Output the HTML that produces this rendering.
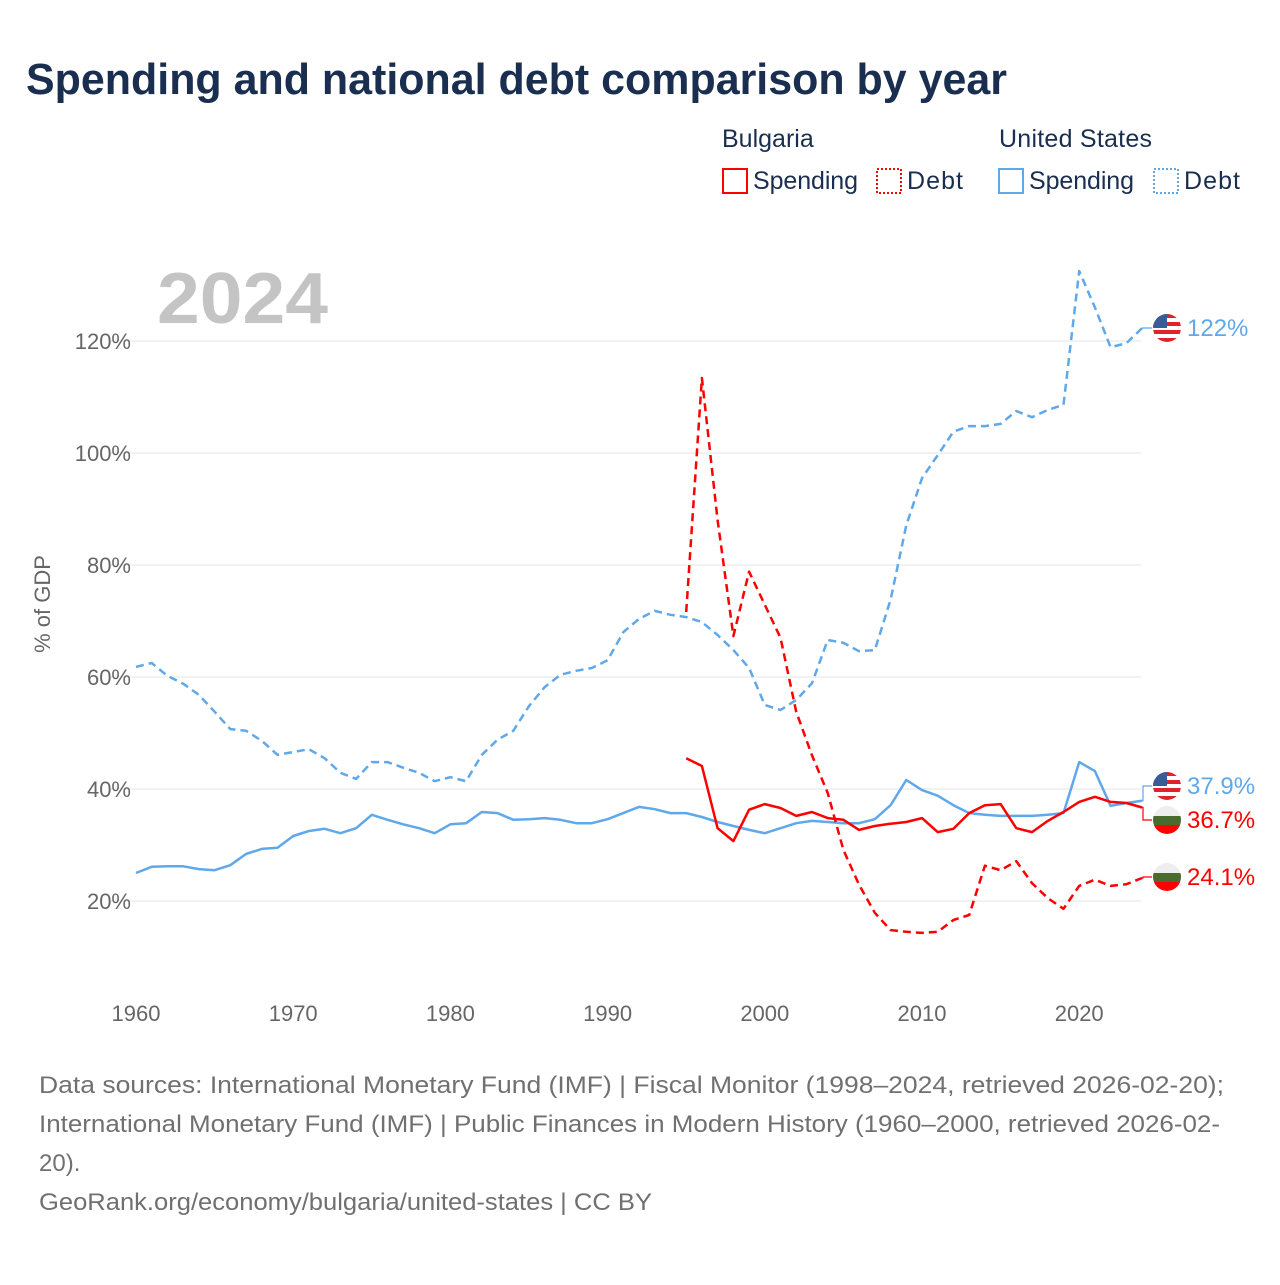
<!DOCTYPE html>
<html><head><meta charset="utf-8"><style>
body{margin:0;background:#fff;font-family:"Liberation Sans",sans-serif;}
svg text{font-family:"Liberation Sans",sans-serif;}
</style></head><body>
<svg id="chart" width="1280" height="1280" viewBox="0 0 1280 1280">
<rect width="1280" height="1280" fill="#fff"/>
<text x="26" y="94" font-size="44" font-weight="bold" fill="#1a2e4f" textLength="981" lengthAdjust="spacingAndGlyphs">Spending and national debt comparison by year</text>
<g font-size="25" fill="#1a2e4f">
<text x="722" y="147">Bulgaria</text>
<text x="999" y="147" textLength="153">United States</text>
<g><rect x="723" y="169" width="24" height="24" fill="none" stroke="#f00" stroke-width="2"/><text x="753" y="189" textLength="105">Spending</text></g>
<g><rect x="877" y="169" width="24" height="24" fill="none" stroke="#f00" stroke-width="2" stroke-dasharray="2,2"/><text x="907" y="189" textLength="56">Debt</text></g>
<g><rect x="999" y="169" width="24" height="24" fill="none" stroke="#5fa8ea" stroke-width="2"/><text x="1029" y="189" textLength="105">Spending</text></g>
<g><rect x="1154" y="169" width="24" height="24" fill="none" stroke="#5fa8ea" stroke-width="2" stroke-dasharray="2,2"/><text x="1184" y="189" textLength="56">Debt</text></g>
</g>
<text x="157" y="323" font-size="72" font-weight="bold" fill="#c4c4c4" textLength="171" lengthAdjust="spacingAndGlyphs">2024</text>
<text transform="translate(50,604) rotate(-90)" text-anchor="middle" font-size="22" fill="#666">% of GDP</text>
<g id="grid"></g><g id="yticks"></g><g id="xticks"></g><g id="series"></g><g id="ends"></g>
<g font-size="24" fill="#707070">
<text x="39" y="1093" textLength="1185" lengthAdjust="spacingAndGlyphs">Data sources: International Monetary Fund (IMF) | Fiscal Monitor (1998–2024, retrieved 2026-02-20);</text>
<text x="39" y="1132" textLength="1181" lengthAdjust="spacingAndGlyphs">International Monetary Fund (IMF) | Public Finances in Modern History (1960–2000, retrieved 2026-02-</text>
<text x="39" y="1171">20).</text>
<text x="39" y="1210" textLength="613" lengthAdjust="spacingAndGlyphs">GeoRank.org/economy/bulgaria/united-states | CC BY</text>
</g>
</svg>
<script>
const yTicks=[20,40,60,80,100,120];
const xTicks=[1960,1970,1980,1990,2000,2010,2020];
const usStart=1960, bgStart=1995;
const usDebt=[61.8,62.5,60.2,58.8,56.8,53.8,50.7,50.4,48.6,46.1,46.6,47.1,45.5,42.9,41.8,44.8,44.8,43.8,42.9,41.4,42.1,41.4,46.1,48.8,50.4,54.8,58.2,60.4,61.1,61.6,63,68,70.4,71.8,71.1,70.7,69.8,67.5,64.8,61.6,55,54.1,55.9,58.9,66.6,66.1,64.6,64.8,73.8,87.1,95.5,99.6,103.8,104.8,104.8,105.2,107.5,106.4,107.7,108.6,132.5,126,118.9,119.6,122.3];
const usSpending=[25,26.1,26.2,26.2,25.7,25.5,26.4,28.4,29.3,29.5,31.6,32.5,32.9,32.1,33,35.4,34.5,33.7,33,32.1,33.7,33.9,35.9,35.7,34.5,34.6,34.8,34.5,33.9,33.9,34.6,35.7,36.8,36.4,35.7,35.7,35,34.1,33.4,32.7,32.1,33,33.9,34.3,34.1,33.9,33.9,34.6,37.1,41.6,39.8,38.8,37.1,35.7,35.4,35.2,35.2,35.2,35.4,35.7,44.8,43.2,37,37.5,37.9];
const bgSpending=[45.5,44.1,33,30.7,36.3,37.3,36.6,35.2,35.9,34.8,34.5,32.7,33.4,33.8,34.1,34.8,32.3,32.9,35.7,37.1,37.3,33,32.3,34.3,35.9,37.7,38.6,37.7,37.5,36.7];
const bgDebt=[71.6,113.4,88,67.3,78.8,72.9,67,53.8,46,39.3,29.1,22.9,17.9,14.8,14.5,14.3,14.5,16.6,17.5,26.3,25.5,27.1,23.2,20.5,18.6,22.7,23.8,22.7,23,24.1];

const NS='http://www.w3.org/2000/svg';
const X=yr=>136+(yr-1960)*15.72;
const Y=v=>1013-v*5.6;
function mk(tag,attrs,parent){const e=document.createElementNS(NS,tag);for(const k in attrs)e.setAttribute(k,attrs[k]);parent.appendChild(e);return e;}
const grid=document.getElementById('grid'),yt=document.getElementById('yticks'),xt=document.getElementById('xticks'),ser=document.getElementById('series'),ends=document.getElementById('ends');
yTicks.forEach(v=>{
  const l=mk('line',{x1:110,x2:1141,y1:Y(v),y2:Y(v),stroke:'#e6e6e6','stroke-width':1},grid);
  
  
  const t=mk('text',{x:131,y:Y(v)+8,'text-anchor':'end','font-size':22,fill:'#666'},yt);
  t.textContent=v+'%';
  
  
});
xTicks.forEach(yr=>{
  const t=mk('text',{x:X(yr),y:1021,'text-anchor':'middle','font-size':22,fill:'#666'},xt);
  t.textContent=yr;
  
  
});
function line(arr,start,color,dash,name){
  const d=arr.map((v,i)=>(i?'L':'M')+X(start+i).toFixed(1)+','+Y(v).toFixed(1)).join(' ');
  const p=mk('path',{d:d,fill:'none',stroke:color,'stroke-width':2.5,'stroke-linejoin':'round'},ser);
  if(dash)p.setAttribute('stroke-dasharray','8,5');
  
  
}
line(usDebt,usStart,'#5fa8ea',true,'us-debt-line');
line(usSpending,usStart,'#5fa8ea',false,'us-spending-line');
line(bgDebt,bgStart,'#ff0000',true,'bg-debt-line');
line(bgSpending,bgStart,'#ff0000',false,'bg-spending-line');

function flag(cx,cy,country,parent){
  const g=mk('g',{},parent);
  const cid='c'+Math.round(cx)+'_'+Math.round(cy);
  const cp=mk('clipPath',{id:cid},g);mk('circle',{cx:cx,cy:cy,r:14},cp);
  const f=mk('g',{'clip-path':'url(#'+cid+')'},g);
  if(country==='us'){
    for(let i=0;i<7;i++)mk('rect',{x:cx-14,y:cy-14+i*4,width:28,height:4,fill:i%2?'#fff':'#e0222b'},f);
    mk('rect',{x:cx-14,y:cy-14,width:14,height:14,fill:'#3c5a99'},f);
  }else{
    mk('rect',{x:cx-14,y:cy-14,width:28,height:10,fill:'#eee'},f);
    mk('rect',{x:cx-14,y:cy-4,width:28,height:9,fill:'#4a6b2e'},f);
    mk('rect',{x:cx-14,y:cy+5,width:28,height:10,fill:'#f00'},f);
  }
  return g;
}
const endItems=[
 {arr:usDebt,start:usStart,c:'us',col:'#5fa8ea',ly:328,txt:'122%',name:'us-debt'},
 {arr:usSpending,start:usStart,c:'us',col:'#5fa8ea',ly:786,txt:'37.9%',name:'us-spending'},
 {arr:bgSpending,start:bgStart,c:'bg',col:'#ff0000',ly:820,txt:'36.7%',name:'bg-spending'},
 {arr:bgDebt,start:bgStart,c:'bg',col:'#ff0000',ly:877,txt:'24.1%',name:'bg-debt'}
];
endItems.forEach(e=>{
  const v=e.arr[e.arr.length-1],yr=e.start+e.arr.length-1;
  const px=X(yr),py=Y(v);
  const c=mk('path',{d:`M${px},${py} L1143,${py} L1143,${e.ly} L1152,${e.ly}`,fill:'none',stroke:e.col,'stroke-width':1.2},ends);
  
  
  const g=flag(1167,e.ly,e.c,ends);
  
  
  const t=mk('text',{x:1187,y:e.ly+8,'font-size':24,fill:e.col},ends);
  t.textContent=e.txt;
  
  
});
</script>
</body></html>
